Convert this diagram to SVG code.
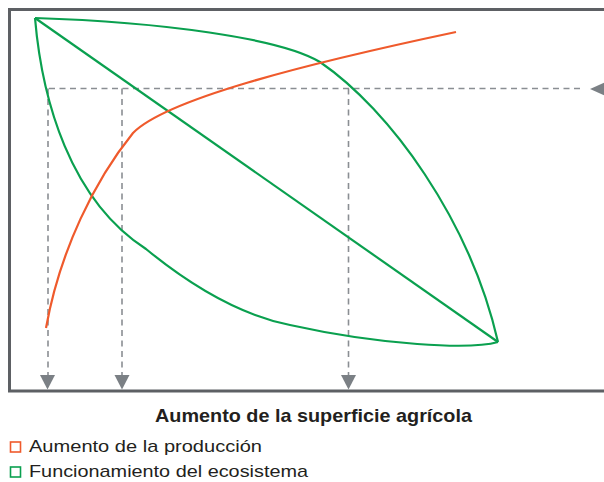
<svg xmlns="http://www.w3.org/2000/svg" width="604" height="482" viewBox="0 0 604 482">
<style>
.frame{fill:none;stroke:#5d6064;stroke-width:3}
.dash{fill:none;stroke:#8a8e93;stroke-width:1.6;stroke-dasharray:6 4.5}
.arr{fill:#7b8085}
.green{fill:none;stroke:#0aa04f;stroke-width:2.2;stroke-linejoin:round}
.orange{fill:none;stroke:#ef5a2c;stroke-width:2.2;stroke-linejoin:round}
.title{font-family:"Liberation Sans",Arial,sans-serif;font-weight:bold;font-size:19px;fill:#231f20}
.leg{font-family:"Liberation Sans",Arial,sans-serif;font-size:17px;fill:#231f20}
</style>
<rect width="604" height="482" fill="#fff"/>
<path class="frame" d="M620,9.5 H9.5 V391 H620"/>
<g id="connectors">
<path class="dash" d="M580,88.5 H48"/>
<path class="dash" d="M48,88.5 V375"/>
<path class="dash" d="M122,88.5 V375"/>
<path class="dash" d="M348.5,88.5 V375"/>
<path class="arr" d="M40,375 L55,375 L47.5,389.5 Z"/>
<path class="arr" d="M114.5,375 L129.5,375 L122,389.5 Z"/>
<path class="arr" d="M341,375 L356,375 L348.5,389.5 Z"/>
<path class="arr" d="M590,89 L608,81 L608,97 Z"/>
</g>
<g id="ecosistema">
<path class="green" d="M35,18 L498,342"/>
<path class="green" d="M35,18 C160,22 280,38 320,62 C390,110 470,220 498,342"/>
<path class="green" d="M35,18 C42,100 70,200 146,249 C190,285 240,315 290,325 C380,345 470,350 498,342"/>
</g>
<g id="produccion">
<path class="orange" d="M46,328 C60,250 95,180 133,133 C165,100 300,65 456,32"/>
</g>
<g id="legend">
<text class="title" x="155" y="422" textLength="317" lengthAdjust="spacingAndGlyphs">Aumento de la superficie agrícola</text>
<rect x="10.5" y="442" width="10" height="10" fill="none" stroke="#ef5a2c" stroke-width="1.6"/>
<text class="leg" x="29" y="452" textLength="233" lengthAdjust="spacingAndGlyphs">Aumento de la producción</text>
<rect x="10.5" y="467" width="10" height="10" fill="none" stroke="#0aa04f" stroke-width="1.6"/>
<text class="leg" x="29" y="477" textLength="279" lengthAdjust="spacingAndGlyphs">Funcionamiento del ecosistema</text>
</g>
</svg>
